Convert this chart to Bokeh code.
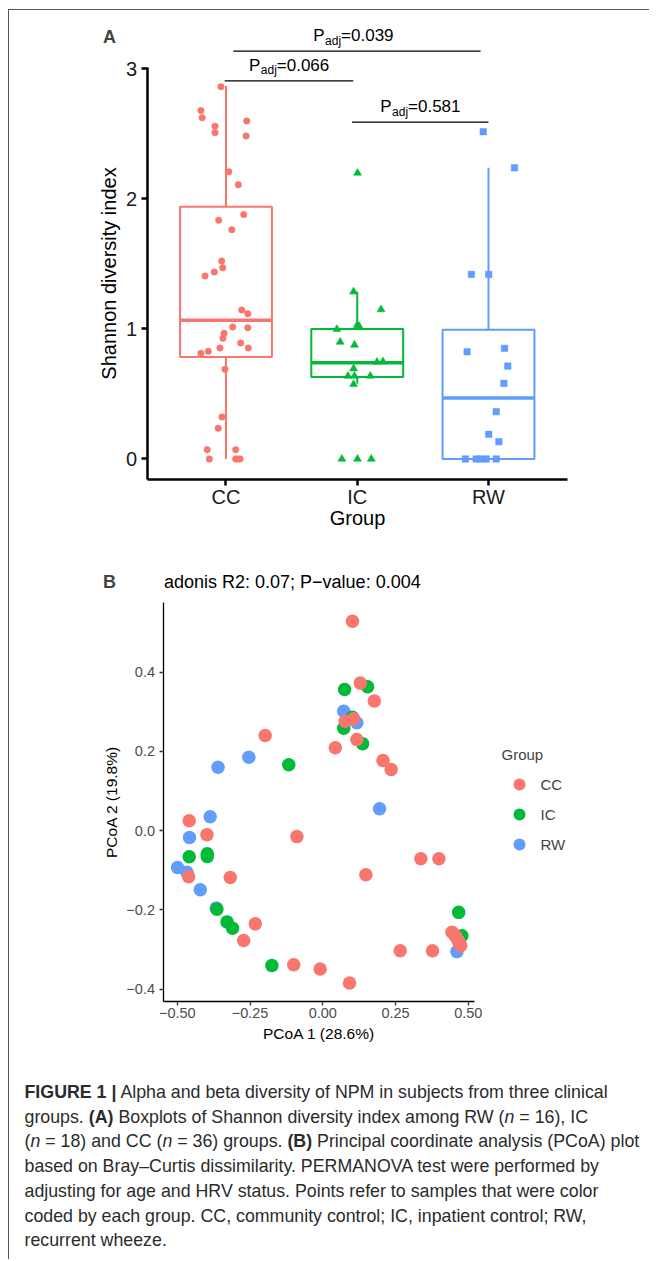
from bokeh.plotting import figure
from bokeh.models import (Range1d, FixedTicker, CustomJSTickFormatter, Label, Arrow,
                          Legend, LegendItem, Div, ColumnDataSource)
from bokeh.layouts import column
from bokeh.embed import file_html
from bokeh.resources import INLINE

FONT = "Liberation Sans"

# ---------------- data: panel A ----------------
groups = ["CC", "IC", "RW"]
colors = ["#F8766D", "#00BA38", "#619CFF"]
markers = ["circle", "triangle", "square"]

box_lower = [0.0, 0.58, 0.0]
box_q1 = [0.785, 0.63, 0.0]
box_median = [1.067, 0.74, 0.47]
box_q3 = [1.94, 1.0, 0.995]
box_upper = [2.87, 1.287, 2.24]

cc_shannon = [2.864, 2.68, 2.625, 2.56, 2.51, 2.60, 2.485, 2.21, 2.11, 1.88, 1.836, 1.764,
              1.523, 1.472, 1.438, 1.408, 1.146, 1.118, 1.015, 1.01, 0.967, 0.928, 0.892,
              0.854, 0.854, 0.828, 0.813, 0.69, 0.323, 0.236, 0.072, 0.072, 0.0, 0.0, 0.0, 0.0]
cc_jitter = [-0.038, -0.191, -0.181, -0.084, -0.084, 0.158, 0.153, 0.021, 0.094, 0.135, -0.056,
             0.044, -0.033, -0.025, -0.089, -0.160, 0.120, 0.166, 0.051, 0.166, -0.015, -0.023,
             0.112, 0.170, -0.046, -0.135, -0.191, -0.008, -0.031, -0.059, -0.143, 0.074,
             -0.127, 0.074, 0.107, 0.090]

ic_shannon = [2.20, 1.287, 1.15, 0.998, 1.03, 1.02, 0.90, 0.877, 0.746, 0.75, 0.695, 0.638,
              0.638, 0.638, 0.575, 0.0, 0.0, 0.0]
ic_jitter = [0.002, -0.028, 0.181, -0.155, 0.0, 0.015, -0.130, -0.021, 0.150, 0.196, -0.028,
             -0.071, -0.021, 0.099, -0.028, -0.117, 0.002, 0.107]

rw_shannon = [2.518, 2.24, 1.42, 1.42, 0.825, 0.851, 0.715, 0.582, 0.364, 0.19, 0.133,
              0.0, 0.0, 0.0, 0.0, 0.0]
rw_jitter = [-0.040, 0.198, -0.130, 0.002, -0.163, 0.122, 0.147, 0.117, 0.059, 0.002, 0.079,
             -0.176, -0.094, -0.018, 0.059, -0.061]

bracket_x0 = [1.056, 0.99, 1.96]
bracket_x1 = [2.94, 1.97, 3.0]
bracket_y = [3.138, 2.908, 2.592]
bracket_text_x = [1.97, 1.48, 2.48]
bracket_p = ["=0.039", "=0.066", "=0.581"]

# ---------------- data: panel B ----------------
cc_pc1 = [0.102, 0.129, 0.177, -0.198, 0.077, 0.106, 0.117, 0.043, 0.207, 0.235,
          -0.459, -0.398, -0.089, 0.337, 0.399, 0.148, -0.461, -0.318, -0.232, -0.272,
          0.266, 0.377, 0.444, 0.458, 0.466, 0.474, -0.100, -0.009, 0.092, 0.470, 0.452]
cc_pc2 = [0.528, 0.372, 0.327, 0.240, 0.276, 0.282, 0.230, 0.209, 0.177, 0.154,
          0.025, -0.010, -0.015, -0.071, -0.071, -0.111, -0.116, -0.118, -0.235, -0.277,
          -0.303, -0.303, -0.256, -0.268, -0.278, -0.290, -0.338, -0.349, -0.384, -0.283, -0.262]
ic_pc1 = [0.075, 0.154, 0.072, 0.102, 0.137, -0.117, -0.459, -0.397, -0.397, -0.364,
          -0.329, -0.310, -0.175, 0.467, 0.478]
ic_pc2 = [0.356, 0.363, 0.258, 0.286, 0.219, 0.166, -0.066, -0.058, -0.065, -0.198,
          -0.230, -0.246, -0.340, -0.206, -0.265]
rw_pc1 = [0.072, 0.117, -0.360, -0.254, 0.195, -0.387, -0.458, -0.499, -0.467, -0.421,
          -0.366, 0.461]
rw_pc2 = [0.301, 0.272, 0.160, 0.185, 0.055, 0.035, -0.017, -0.093, -0.105, -0.149,
          -0.195, -0.305]

# axis extents of the two panels (ggplot panel limits)
A_xlim = (0.4, 3.6)
A_ylim = (-0.154, 3.01)
B_xlim = (-0.5457, 0.523)
B_ylim = (-0.4295, 0.5748)

# ---------------- panel A ----------------
pA = figure(width=640, height=535, output_backend="svg", toolbar_location=None, title=None,
            x_range=Range1d(-0.6495, 4.2267), y_range=Range1d(-0.6654, 3.45), min_border=0)
pA.outline_line_color = None
pA.grid.visible = False

pos = [i + 1 for i in range(len(groups))]
box_src = ColumnDataSource(dict(x=pos, lo=box_lower, q1=box_q1, med=box_median, q3=box_q3,
                                hi=box_upper, color=colors,
                                xl=[p - 0.35 for p in pos], xr=[p + 0.35 for p in pos]))
pA.segment(x0="x", x1="x", y0="q3", y1="hi", line_color="color", line_width=2, source=box_src)
pA.segment(x0="x", x1="x", y0="lo", y1="q1", line_color="color", line_width=2, source=box_src)
pA.vbar(x="x", width=0.7, bottom="q1", top="q3", fill_color="white", line_color="color",
        line_width=2, source=box_src)
pA.segment(x0="xl", x1="xr", y0="med", y1="med", line_color="color", line_width=3.5,
           source=box_src)

for i, (vals, jit) in enumerate([(cc_shannon, cc_jitter), (ic_shannon, ic_jitter),
                                  (rw_shannon, rw_jitter)]):
    size = {"circle": 6.5, "triangle": 8, "square": 6.5}[markers[i]]
    pA.scatter([pos[i] + j for j in jit], vals, marker=markers[i], size=size,
               fill_color=colors[i], line_color=colors[i], line_width=0.5)

for x0, x1, y, tx, ptxt in zip(bracket_x0, bracket_x1, bracket_y, bracket_text_x, bracket_p):
    pA.add_layout(Arrow(end=None, start=None, x_start=x0, y_start=y, x_end=x1, y_end=y,
                        line_width=1.3, line_color="black"))
    pA.add_layout(Label(x=tx, y=y, text="P", x_offset=-40, y_offset=15.5,
                        text_font=FONT, text_font_size="17px", text_align="left",
                        text_baseline="alphabetic", text_color="black"))
    pA.add_layout(Label(x=tx, y=y, text="adj", x_offset=-28.2, y_offset=10.5,
                        text_font=FONT, text_font_size="12px", text_align="left",
                        text_baseline="alphabetic", text_color="black"))
    pA.add_layout(Label(x=tx, y=y, text=ptxt, x_offset=-12.2, y_offset=15.5,
                        text_font=FONT, text_font_size="17px", text_align="left",
                        text_baseline="alphabetic", text_color="black"))

pA.add_layout(Label(x=0.063, y=3.249, text="A", text_font=FONT, text_font_size="18px",
                    text_font_style="bold", text_align="left", text_baseline="alphabetic"))

pA.xaxis.fixed_location = A_ylim[0]
pA.xaxis.bounds = A_xlim
pA.yaxis.fixed_location = A_xlim[0]
pA.yaxis.bounds = A_ylim
pA.xaxis.ticker = FixedTicker(ticks=pos)
pA.xaxis.formatter = CustomJSTickFormatter(args=dict(cats=groups),
                                           code="return cats[Math.round(tick) - 1] || '';")
pA.yaxis.ticker = FixedTicker(ticks=[0, 1, 2, 3])
pA.xaxis.axis_label = "Group"
pA.yaxis.axis_label = "Shannon diversity index"
for ax in (pA.xaxis, pA.yaxis):
    ax.axis_line_width = 2.5
    ax.axis_line_color = "black"
    ax.major_tick_line_width = 2.5
    ax.major_tick_line_color = "black"
    ax.major_tick_out = 6
    ax.major_tick_in = 0
    ax.minor_tick_line_color = None
    ax.major_label_text_font = FONT
    ax.major_label_text_font_size = "20px"
    ax.major_label_text_color = "#1a1a1a"
    ax.axis_label_text_font = FONT
    ax.axis_label_text_font_size = "20px"
    ax.axis_label_text_font_style = "normal"
    ax.axis_label_text_color = "black"
pA.xaxis.major_label_standoff = 1
pA.yaxis.major_label_standoff = 4
pA.xaxis.axis_label_standoff = -5
pA.yaxis.axis_label_standoff = 3

# ---------------- panel B ----------------
pB = figure(width=640, height=500, output_backend="svg", toolbar_location=None, title=None,
            x_range=Range1d(-1.0766, 1.1227), y_range=Range1d(-0.5417, 0.719), min_border=0)
pB.outline_line_color = None
pB.grid.visible = False

r_rw = pB.scatter(rw_pc1, rw_pc2, size=13.5, fill_color=colors[2], line_color=None)
r_ic = pB.scatter(ic_pc1, ic_pc2, size=13.5, fill_color=colors[1], line_color=None)
r_cc = pB.scatter(cc_pc1, cc_pc2, size=13.5, fill_color=colors[0], line_color=None)

legend = Legend(items=[LegendItem(label="CC", renderers=[r_cc]),
                       LegendItem(label="IC", renderers=[r_ic]),
                       LegendItem(label="RW", renderers=[r_rw])],
                title="Group", location=(493, 186), orientation="vertical",
                glyph_width=34, glyph_height=30, label_height=30, label_standoff=5,
                spacing=0, padding=0, margin=0, title_standoff=6,
                border_line_color=None, background_fill_alpha=0)
legend.title_text_font = FONT
legend.title_text_font_size = "15px"
legend.title_text_font_style = "normal"
legend.label_text_font = FONT
legend.label_text_font_size = "15px"
pB.add_layout(legend)

pB.add_layout(Label(x=B_xlim[0], y=0.6262, text="adonis R2: 0.07; P\u2212value: 0.004",
                    text_font=FONT, text_font_size="18px", text_align="left",
                    text_baseline="alphabetic", text_color="black"))
pB.add_layout(Label(x=-0.7553, y=0.6262, text="B", text_font=FONT, text_font_size="18px",
                    text_font_style="bold", text_align="left", text_baseline="alphabetic"))

pB.xaxis.fixed_location = B_ylim[0]
pB.xaxis.bounds = B_xlim
pB.yaxis.fixed_location = B_xlim[0]
pB.yaxis.bounds = B_ylim
pB.xaxis.ticker = FixedTicker(ticks=[-0.5, -0.25, 0.0, 0.25, 0.5])
pB.yaxis.ticker = FixedTicker(ticks=[-0.4, -0.2, 0.0, 0.2, 0.4])
pB.xaxis.formatter = CustomJSTickFormatter(
    code="return (tick < -1e-9 ? '\u2212' : '') + Math.abs(tick).toFixed(2);")
pB.yaxis.formatter = CustomJSTickFormatter(
    code="return (tick < -1e-9 ? '\u2212' : '') + Math.abs(tick).toFixed(1);")
pB.xaxis.axis_label = "PCoA 1 (28.6%)"
pB.yaxis.axis_label = "PCoA 2 (19.8%)"
for ax in (pB.xaxis, pB.yaxis):
    ax.axis_line_width = 1.3
    ax.axis_line_color = "black"
    ax.major_tick_line_width = 1.3
    ax.major_tick_line_color = "#333333"
    ax.major_tick_out = 4
    ax.major_tick_in = 0
    ax.minor_tick_line_color = None
    ax.major_label_text_font = FONT
    ax.major_label_text_font_size = "14.5px"
    ax.major_label_text_color = "#4D4D4D"
    ax.axis_label_text_font = FONT
    ax.axis_label_text_font_size = "15.5px"
    ax.axis_label_text_font_style = "normal"
    ax.axis_label_text_color = "black"
pB.xaxis.major_label_standoff = 3
pB.yaxis.major_label_standoff = 5
pB.xaxis.axis_label_standoff = 3
pB.yaxis.axis_label_standoff = 3

# ---------------- caption ----------------
caption_lines = [
    "<b>FIGURE 1 |</b> Alpha and beta diversity of NPM in subjects from three clinical",
    "groups. <b>(A)</b> Boxplots of Shannon diversity index among RW (<i>n</i> = 16), IC",
    "(<i>n</i> = 18) and CC (<i>n</i> = 36) groups. <b>(B)</b> Principal coordinate analysis (PCoA) plot",
    "based on Bray\u2013Curtis dissimilarity. PERMANOVA test were performed by",
    "adjusting for age and HRV status. Points refer to samples that were color",
    "coded by each group. CC, community control; IC, inpatient control; RW,",
    "recurrent wheeze.",
]
cap_html = ('<div style="font-family: \'Liberation Sans\', Arial, sans-serif; '
            'font-size: 17.8px; line-height: 24.7px; color: #2b2b2b; '
            'white-space: nowrap; padding-left: 16px; padding-top: 35px;">'
            + "<br>".join(caption_lines) + "</div>")
cap = Div(text=cap_html, width=640, height=214, margin=0)

layout = column(pA, pB, cap, spacing=0,
                styles={"border-left": "1.5px solid #555555",
                        "border-top": "1.5px solid #555555",
                        "margin-top": "9px", "margin-left": "7.5px"})

with open("out.html", "w", encoding="utf-8") as f:
    f.write(file_html(layout, INLINE))
